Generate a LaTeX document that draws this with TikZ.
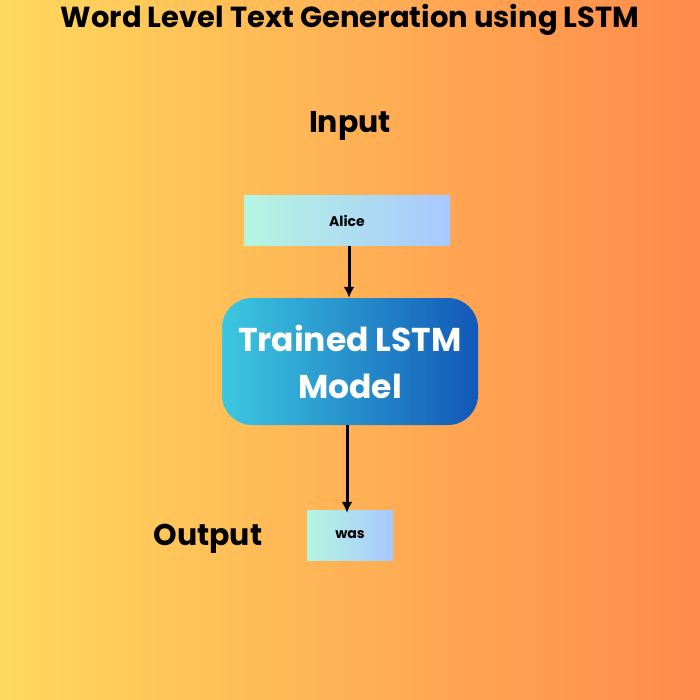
\documentclass[tikz,border=0pt]{standalone}
\usepackage{fontspec}
\setmainfont{Poppins}
\usetikzlibrary{arrows.meta}
\definecolor{bgl}{HTML}{FFD95E}
\definecolor{bgr}{HTML}{FF8A4C}
\definecolor{wl}{HTML}{B5F5E0}
\definecolor{wr}{HTML}{A8C8FF}
\definecolor{ml}{HTML}{3CC8E0}
\definecolor{mr}{HTML}{1258B8}
\tikzset{
  wordbox/.style={minimum height=50pt, inner sep=0pt, left color=wl, right color=wr, font=\fontsize{14}{16}\selectfont\bfseries},
  lbl/.style={font=\fontsize{30}{34}\selectfont\bfseries},
  arr/.style={-{Latex[length=11pt,width=11pt]}, line width=3pt, black}
}
\begin{document}
\begin{tikzpicture}[x=1pt,y=-1pt]
\shade[left color=bgl, right color=bgr] (0,0) rectangle (700,700);
\useasboundingbox (0,0) rectangle (700,700);
\node[font=\fontsize{29}{34}\selectfont\bfseries] (title) at (350,20) {Word Level Text Generation using LSTM};
\node[lbl] (in) at (350,126) {Input};
\node[wordbox, minimum width=206pt] (alice) at (347,221) {Alice};
\node[rounded corners=30pt, minimum width=256pt, minimum height=127pt, left color=ml, right color=mr, text=white, align=center, font=\fontsize{33}{47}\selectfont\bfseries] (lstm) at (350,361.5) {Trained LSTM\\Model};
\node[wordbox, minimum width=86pt] (was) at (350,535) {was};
\node[lbl] (out) at (208,539) {Output};
\draw[arr] (alice.south -| 349,0) -- (lstm.north -| 349,0);
\draw[arr] (lstm.south -| 347,0) -- ([yshift=-3pt]was.north -| 347,0);
\end{tikzpicture}
\end{document}
